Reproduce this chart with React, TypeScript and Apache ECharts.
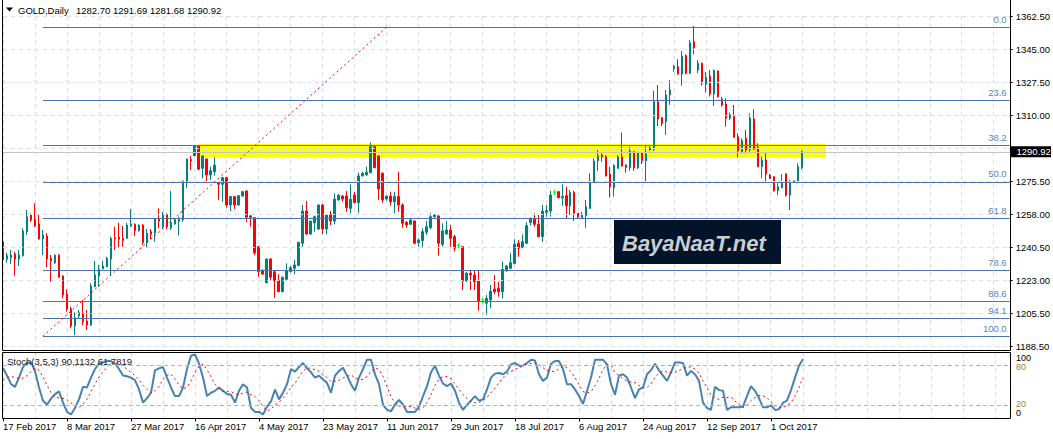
import React, { useEffect, useRef } from "react";
import * as echarts from "echarts";

const FONT = '"Liberation Sans", Arial, sans-serif';

// ---- x axis ----
const dateLabels = ["17 Feb 2017", "8 Mar 2017", "27 Mar 2017", "16 Apr 2017", "4 May 2017", "23 May 2017", "11 Jun 2017", "29 Jun 2017", "18 Jul 2017", "6 Aug 2017", "24 Aug 2017", "12 Sep 2017", "1 Oct 2017"];
const barsPerLabel = 16;
const gridEvery = 8;
const totalSlots = 253;

// ---- price axis ----
const priceTicks = [1188.5, 1205.9, 1223.3, 1240.7, 1258.1, 1275.5, 1292.9, 1310.3, 1327.7, 1345.1, 1362.5];
const priceTickLabels = ["1188.50", "1205.50", "1223.00", "1240.50", "1258.00", "1275.50", "", "1310.00", "1327.50", "1345.00", "1362.50"];

// ---- daily candles ----
const opens = [
  1243.4, 1234.3, 1235.1, 1237.1, 1234.4, 1236.2, 1248.8, 1257.6, 1255.3, 1252.9,
  1245.0, 1246.5, 1234.8, 1232.3, 1236.4, 1225.4, 1216.0, 1208.1, 1199.3, 1204.4,
  1205.8, 1201.7, 1199.6, 1219.8, 1225.4, 1229.3, 1230.4, 1234.4, 1245.6, 1245.9,
  1245.3, 1245.3, 1251.8, 1252.7, 1249.3, 1252.3, 1243.0, 1248.8, 1248.0, 1255.9,
  1251.4, 1257.9, 1250.9, 1252.9, 1254.4, 1255.0, 1275.5, 1286.9, 1288.9, 1294.0,
  1282.2, 1287.1, 1278.7, 1280.4, 1274.6, 1273.8, 1277.3, 1262.9, 1267.3, 1262.9,
  1267.6, 1270.3, 1257.1, 1256.2, 1240.9, 1228.2, 1221.9, 1234.4, 1227.7, 1223.3,
  1217.2, 1223.7, 1227.7, 1229.5, 1230.9, 1242.7, 1259.7, 1247.6, 1253.5, 1250.2,
  1262.9, 1250.2, 1257.6, 1254.4, 1265.5, 1267.6, 1267.6, 1261.1, 1268.1, 1264.1,
  1278.3, 1278.7, 1279.9, 1293.6, 1288.7, 1279.6, 1266.0, 1267.6, 1264.6, 1267.3,
  1262.9, 1253.8, 1252.7, 1254.4, 1243.0, 1244.1, 1248.5, 1250.9, 1256.7, 1257.1,
  1242.1, 1247.6, 1249.7, 1246.2, 1241.4, 1240.9, 1222.8, 1226.9, 1226.0, 1222.8,
  1212.8, 1211.1, 1212.8, 1218.6, 1219.0, 1217.2, 1228.1, 1229.5, 1232.1, 1242.7,
  1240.4, 1242.7, 1253.7, 1255.9, 1252.7, 1246.2, 1259.0, 1259.7, 1269.6, 1269.9,
  1266.7, 1267.8, 1262.5, 1269.6, 1258.5, 1256.2, 1257.2, 1261.1, 1275.2, 1286.1,
  1289.2, 1288.3, 1279.2, 1272.0, 1282.2, 1288.3, 1283.9, 1282.5, 1290.9, 1282.5,
  1290.4, 1286.2, 1291.9, 1292.2, 1317.3, 1308.9, 1306.8, 1320.9, 1334.7, 1335.8,
  1331.9, 1341.6, 1332.3, 1348.9, 1334.0, 1337.6, 1326.5, 1330.9, 1321.4, 1333.5,
  1318.7, 1316.1, 1308.6, 1310.3, 1298.9, 1291.0, 1298.0, 1291.9, 1308.2, 1293.3,
  1283.1, 1286.6, 1278.7, 1277.8, 1270.4, 1272.0, 1279.2, 1268.1, 1275.1, 1275.2,
  1282.70,
];
const highs = [
  1244.4, 1237.6, 1239.2, 1238.1, 1239.2, 1250.6, 1260.2, 1258.4, 1263.8, 1258.1,
  1249.7, 1248.0, 1236.5, 1236.9, 1236.9, 1225.9, 1218.4, 1209.3, 1206.3, 1207.5,
  1212.8, 1207.5, 1221.6, 1233.4, 1231.3, 1233.4, 1235.6, 1246.2, 1251.4, 1253.5,
  1251.8, 1253.5, 1260.8, 1253.2, 1252.7, 1252.8, 1250.2, 1250.2, 1255.9, 1261.1,
  1259.3, 1258.5, 1270.3, 1255.9, 1256.8, 1275.8, 1287.4, 1288.7, 1294.5, 1294.5,
  1289.2, 1287.5, 1283.1, 1288.0, 1275.0, 1277.8, 1277.7, 1267.5, 1267.6, 1268.1,
  1270.3, 1270.6, 1257.6, 1256.5, 1241.2, 1229.0, 1234.6, 1234.8, 1228.6, 1226.4,
  1225.1, 1232.1, 1230.7, 1233.9, 1243.5, 1262.9, 1265.0, 1254.6, 1257.2, 1263.1,
  1263.4, 1257.9, 1259.7, 1269.0, 1268.5, 1268.1, 1270.3, 1273.8, 1269.9, 1279.9,
  1280.4, 1283.1, 1295.9, 1294.0, 1289.2, 1280.0, 1267.8, 1269.9, 1269.9, 1280.4,
  1263.8, 1254.4, 1255.9, 1255.0, 1245.3, 1250.6, 1254.4, 1258.5, 1257.9, 1257.4,
  1253.2, 1254.4, 1252.3, 1247.1, 1242.7, 1241.2, 1227.7, 1228.6, 1228.1, 1228.6,
  1213.7, 1215.4, 1220.7, 1226.0, 1222.4, 1233.0, 1231.3, 1237.4, 1244.9, 1244.4,
  1247.4, 1253.8, 1256.2, 1258.5, 1257.6, 1262.9, 1262.9, 1270.3, 1270.8, 1270.3,
  1273.8, 1272.5, 1270.8, 1270.3, 1258.8, 1259.3, 1265.5, 1279.6, 1287.5, 1291.9,
  1290.1, 1289.2, 1283.1, 1284.2, 1289.2, 1301.0, 1284.2, 1293.6, 1291.2, 1290.9,
  1290.7, 1294.5, 1294.5, 1323.1, 1326.1, 1309.2, 1323.5, 1328.8, 1336.7, 1339.7,
  1344.0, 1342.3, 1349.9, 1357.2, 1339.3, 1338.0, 1333.1, 1334.0, 1334.4, 1333.8,
  1319.9, 1319.1, 1311.5, 1315.6, 1300.7, 1298.0, 1302.4, 1311.2, 1313.3, 1295.4,
  1288.3, 1290.1, 1279.2, 1278.1, 1274.3, 1279.2, 1279.6, 1276.1, 1275.7, 1284.8,
  1291.69,
];
const lows = [
  1232.8, 1232.5, 1231.8, 1225.6, 1230.7, 1235.6, 1247.1, 1253.9, 1251.3, 1244.6,
  1236.5, 1230.0, 1222.4, 1231.8, 1224.6, 1213.7, 1206.6, 1197.9, 1194.4, 1203.2,
  1199.6, 1197.0, 1199.2, 1219.5, 1219.8, 1229.0, 1230.0, 1226.0, 1239.2, 1240.6,
  1240.9, 1245.1, 1251.4, 1246.5, 1248.8, 1241.8, 1240.6, 1244.8, 1243.5, 1250.6,
  1250.2, 1250.2, 1249.7, 1252.5, 1246.8, 1254.1, 1271.7, 1281.3, 1288.5, 1281.3,
  1276.9, 1274.3, 1276.1, 1278.3, 1265.5, 1264.6, 1261.5, 1259.7, 1260.8, 1262.5,
  1267.4, 1253.8, 1251.4, 1236.5, 1225.1, 1226.0, 1221.6, 1223.3, 1214.0, 1217.0,
  1216.8, 1223.3, 1227.4, 1226.4, 1230.7, 1240.9, 1247.1, 1247.1, 1248.8, 1249.7,
  1247.6, 1247.4, 1252.3, 1252.7, 1265.3, 1264.6, 1259.3, 1258.5, 1263.8, 1258.8,
  1277.8, 1278.3, 1279.6, 1282.2, 1265.5, 1264.1, 1265.1, 1262.5, 1258.5, 1259.3,
  1250.9, 1250.9, 1252.3, 1242.2, 1240.9, 1240.4, 1247.1, 1250.1, 1256.2, 1236.2,
  1240.9, 1247.1, 1240.9, 1238.6, 1240.1, 1218.1, 1222.4, 1218.1, 1218.1, 1207.2,
  1211.1, 1204.9, 1208.4, 1215.8, 1214.5, 1213.7, 1227.7, 1229.0, 1231.6, 1235.6,
  1240.1, 1242.3, 1252.0, 1251.4, 1245.9, 1243.5, 1256.7, 1256.7, 1268.1, 1266.4,
  1262.5, 1255.9, 1257.6, 1254.4, 1255.9, 1255.9, 1250.9, 1260.8, 1274.8, 1280.8,
  1285.7, 1277.9, 1266.8, 1267.3, 1281.9, 1283.1, 1279.9, 1280.9, 1280.9, 1281.9,
  1284.5, 1274.6, 1291.5, 1291.3, 1304.5, 1304.5, 1299.8, 1315.6, 1333.1, 1331.6,
  1325.8, 1331.7, 1331.9, 1342.3, 1332.3, 1325.8, 1322.1, 1320.0, 1315.1, 1319.6,
  1314.7, 1304.1, 1307.7, 1298.4, 1288.0, 1290.1, 1290.1, 1291.0, 1291.9, 1282.8,
  1276.9, 1275.2, 1276.6, 1269.9, 1268.1, 1271.7, 1267.3, 1260.2, 1274.6, 1274.3,
  1281.68,
];
const closes = [
  1233.9, 1236.2, 1236.5, 1234.3, 1236.5, 1249.2, 1256.7, 1255.0, 1251.8, 1245.0,
  1247.1, 1234.4, 1233.4, 1236.4, 1224.8, 1215.4, 1207.9, 1199.1, 1203.5, 1206.1,
  1201.4, 1199.6, 1220.2, 1226.0, 1229.0, 1230.7, 1234.8, 1245.3, 1245.0, 1244.8,
  1244.1, 1252.3, 1252.9, 1249.3, 1252.3, 1243.0, 1248.0, 1247.4, 1255.5, 1254.4,
  1258.1, 1251.4, 1253.7, 1255.2, 1255.3, 1275.5, 1287.1, 1286.2, 1294.0, 1281.7,
  1288.7, 1278.7, 1281.0, 1283.9, 1273.8, 1277.3, 1262.9, 1267.3, 1262.9, 1267.8,
  1269.9, 1256.4, 1256.4, 1237.7, 1227.7, 1226.5, 1234.4, 1224.8, 1222.9, 1217.2,
  1224.8, 1228.1, 1229.8, 1231.3, 1243.2, 1259.7, 1247.6, 1254.4, 1256.7, 1262.9,
  1250.2, 1257.6, 1254.4, 1266.0, 1268.1, 1266.0, 1261.5, 1265.9, 1264.1, 1278.2,
  1279.6, 1280.1, 1293.6, 1282.6, 1271.3, 1265.5, 1267.6, 1264.6, 1267.3, 1262.9,
  1253.2, 1252.3, 1255.0, 1242.7, 1244.4, 1248.8, 1251.4, 1256.7, 1257.6, 1242.7,
  1249.2, 1249.7, 1245.3, 1240.1, 1241.4, 1222.8, 1226.9, 1226.0, 1222.4, 1211.9,
  1212.8, 1213.7, 1217.5, 1217.2, 1217.2, 1229.0, 1230.7, 1232.5, 1242.2, 1240.1,
  1243.5, 1252.0, 1255.9, 1252.7, 1246.2, 1259.7, 1259.9, 1268.1, 1269.6, 1266.7,
  1267.3, 1262.5, 1269.4, 1258.5, 1256.7, 1258.0, 1262.0, 1275.5, 1286.1, 1288.9,
  1288.2, 1278.2, 1272.5, 1283.9, 1288.3, 1283.4, 1282.7, 1291.3, 1282.5, 1290.4,
  1286.2, 1289.7, 1292.8, 1317.3, 1308.2, 1305.9, 1320.9, 1323.5, 1335.8, 1331.9,
  1341.4, 1332.3, 1348.4, 1345.8, 1337.6, 1327.0, 1330.2, 1321.4, 1333.7, 1319.9,
  1315.6, 1308.6, 1310.3, 1298.6, 1291.5, 1296.8, 1291.9, 1308.6, 1292.8, 1283.1,
  1286.6, 1279.2, 1276.9, 1270.4, 1272.5, 1274.3, 1268.1, 1275.5, 1275.5, 1283.1,
  1290.92,
];

// ---- stochastic (3,5,3) ----
const stochK = [
  77, 65, 52, 48, 62, 78, 84, 85, 72, 47,
  27, 21, 30, 37, 41, 24, 10, 6, 16, 29,
  48, 47, 62, 75, 83, 85, 87, 87, 83, 75,
  65, 64, 62, 58, 44, 24, 31, 39, 73, 76,
  78, 62, 47, 34, 34, 47, 75, 95, 97, 83,
  62, 34, 39, 42, 47, 42, 37, 36, 24, 42,
  52, 47, 16, 10, 10, 6, 18, 26, 44, 29,
  39, 52, 75, 71, 78, 84, 76, 70, 62, 65,
  59, 54, 39, 65, 72, 77, 65, 52, 42, 62,
  75, 89, 89, 67, 52, 21, 13, 11, 21, 28,
  21, 10, 10, 10, 18, 34, 49, 70, 80, 65,
  53, 49, 53, 42, 24, 13, 21, 27, 34, 27,
  29, 44, 62, 68, 69, 67, 71, 82, 84, 80,
  80, 84, 89, 88, 67, 57, 62, 83, 87, 87,
  75, 52, 52, 44, 34, 22, 42, 62, 89, 89,
  89, 82, 52, 36, 65, 67, 62, 47, 31, 44,
  47, 67, 73, 83, 73, 65, 57, 70, 85, 85,
  84, 65, 72, 67, 57, 24, 16, 13, 48, 43,
  42, 13, 17, 17, 17, 18, 34, 49, 42, 31,
  17, 17, 20, 13, 14, 24, 27, 43, 62, 80,
  90.11,
];
const stochD = [
  58, 62, 64, 62, 60.8, 61, 64.8, 71.4, 76.2, 73.2,
  63, 50.4, 39.4, 32.4, 31.2, 30.6, 28.4, 23.6, 19.4, 17,
  21.8, 29.2, 40.4, 52.2, 63, 70.4, 78.4, 83.4, 85, 83.4,
  79.4, 74.8, 69.8, 64.8, 58.6, 50.4, 43.8, 39.2, 42.2, 48.6,
  59.4, 65.6, 67.2, 59.4, 51, 44.8, 47.4, 57, 69.6, 79.4,
  82.4, 74.2, 63, 52, 44.8, 40.8, 41.4, 40.8, 37.2, 36.2,
  38.2, 40.2, 36.2, 33.4, 27, 17.8, 12, 14, 20.8, 24.6,
  31.2, 38, 47.8, 53.2, 63, 72, 76.8, 75.8, 74, 71.4,
  66.4, 62, 55.8, 56.4, 57.8, 61.4, 63.6, 66.2, 61.6, 59.6,
  59.2, 64, 71.4, 76.4, 74.4, 63.6, 48.4, 32.8, 23.6, 18.8,
  18.8, 18.2, 18, 15.8, 13.8, 16.4, 24.2, 36.2, 50.2, 59.6,
  63.4, 63.4, 60, 52.4, 44.2, 36.2, 30.6, 25.4, 23.8, 24.4,
  27.6, 32.2, 39.2, 46, 54.4, 62, 67.4, 71.4, 74.6, 76.8,
  79.4, 82, 83.4, 84.2, 81.6, 77, 72.6, 71.4, 71.2, 75.2,
  78.8, 76.8, 70.6, 62, 51.4, 40.8, 38.8, 40.8, 49.8, 60.8,
  74.2, 82.2, 80.2, 69.6, 64.8, 60.4, 56.4, 55.4, 54.4, 50.2,
  46.2, 47.2, 52.4, 62.8, 68.6, 72.2, 70.2, 69.6, 70, 72.4,
  76.2, 77.8, 78.2, 74.6, 69, 57, 47.2, 35.4, 31.6, 28.8,
  32.4, 31.8, 32.6, 26.4, 21.2, 16.4, 20.6, 27, 32, 34.8,
  34.6, 31.2, 25.4, 19.6, 16.2, 17.6, 19.6, 24.2, 34, 47.2,
  61.78,
];
const stochLevels = [80, 20];

// ---- drawn objects ----
const fibLevels = [0, 23.6, 38.2, 50, 61.8, 78.6, 88.6, 94.1, 100];
const fibHigh = 1356.5;
const fibLow = 1193.7;
const fibStartBar = 10;
const fibEndBar = 96;
const zoneTop = 1295.0;
const zoneBottom = 1288.0;
const zoneStartBar = 49;
const zoneEndBar = 206;
const bidPrice = 1290.92;
const headerSymbol = "GOLD,Daily";
const headerOHLC = "1282.70 1291.69 1281.68 1290.92";
const stochTitle = "Stoch(3,5,3) 90.1132 61.7819";

export default function App() {
  const ref = useRef<HTMLDivElement>(null);

  useEffect(() => {
    const el = ref.current;
    if (!el) return;
    const chart = echarts.init(el, null, { renderer: "svg" });
    const lastIdx = totalSlots - 1;
    const cats = Array.from({ length: totalSlots }, (_, i) => "b" + i);
    const labelAt = (i: number) =>
      i % barsPerLabel === 0 && i / barsPerLabel < dateLabels.length ? dateLabels[i / barsPerLabel] : "";
    const candleData = opens.map((o, i) => [o, closes[i], lows[i], highs[i]]);
    const fibPrice = (lv: number) => fibHigh - ((fibHigh - fibLow) * lv) / 100;
    const splitLine = {
      show: true,
      interval: (i: number) => i % gridEvery === 0,
      lineStyle: { color: "#d9d9ef", type: [4, 4], width: 1 },
    };
    const txt = (text: string, x: number, y: number, fill: string, size = 9.5) => ({
      type: "text", z: 20, x, y, silent: true,
      style: { text, fill, fontSize: size, fontFamily: FONT, textVerticalAlign: "middle", verticalAlign: "middle" },
    });

    const staticGraphic: any[] = [
      {
        type: "polyline", z: 20, silent: true,
        shape: { points: [[2.5, 0], [2.5, 350.5], [1010.5, 350.5], [1010.5, 0]] },
        style: { stroke: "#000", fill: null, lineWidth: 1 },
      },
      {
        type: "rect", z: 20, silent: true,
        shape: { x: 2.5, y: 352.5, width: 1008, height: 66 },
        style: { stroke: "#000", fill: null, lineWidth: 1 },
      },
      {
        type: "polygon", z: 20, silent: true,
        shape: { points: [[6, 7.5], [13, 7.5], [9.5, 11.5]] },
        style: { fill: "#000" },
      },
      txt(headerSymbol, 18, 10.5, "#000"),
      txt(headerOHLC, 76, 10.5, "#000"),
      txt(stochTitle, 7, 361, "#222"),
      txt("100", 1016, 357.5, "#000", 9),
      txt("80", 1016, 366.5, "#b07a1e", 9),
      txt("20", 1016, 403.5, "#b07a1e", 9),
      txt("0", 1016, 412.5, "#000", 9),
      {
        type: "rect", z: 20, silent: true,
        shape: { x: 614, y: 220, width: 167, height: 44 },
        style: { fill: "#03142a" },
      },
      {
        type: "text", z: 21, x: 622, y: 243, silent: true,
        style: { text: "BayaNaaT.net", fill: "#c9ced4", fontSize: 22, fontWeight: "bold", fontStyle: "italic", fontFamily: FONT, textVerticalAlign: "middle", verticalAlign: "middle" },
      },
    ];

    const option: any = {
      animation: false,
      backgroundColor: "#ffffff",
      grid: [
        { left: 3, top: 16, width: 1008, height: 330.1 },
        { left: 3, top: 352.5, width: 1008, height: 66 },
      ],
      xAxis: [
        {
          type: "category", gridIndex: 0, data: cats, boundaryGap: false,
          axisLine: { show: false }, axisTick: { show: false }, axisLabel: { show: false }, splitLine,
        },
        {
          type: "category", gridIndex: 1, data: cats, boundaryGap: false,
          axisLine: { show: false },
          axisTick: { show: true, interval: (i: number) => labelAt(i) !== "", length: 3, lineStyle: { color: "#000" } },
          axisLabel: {
            show: true, interval: (i: number) => labelAt(i) !== "",
            formatter: (_v: string, i: number) => labelAt(i),
            align: "left", margin: 3, fontSize: 9.5, color: "#000", fontFamily: FONT,
          },
          splitLine,
        },
      ],
      yAxis: [
        {
          type: "value", gridIndex: 0, position: "right",
          min: priceTicks[0], max: priceTicks[priceTicks.length - 1],
          axisLine: { show: false },
          axisTick: { show: true, customValues: priceTicks, length: 3, lineStyle: { color: "#000" } },
          axisLabel: {
            show: true, customValues: priceTicks, margin: 6, fontSize: 9.5, color: "#000", fontFamily: FONT,
            formatter: (v: number) => {
              const k = priceTicks.findIndex((t) => Math.abs(t - v) < 0.01);
              return k >= 0 ? priceTickLabels[k] : "";
            },
          },
          splitLine: { show: false },
        },
        {
          type: "value", gridIndex: 1, position: "right", min: 0, max: 100,
          axisLine: { show: false }, axisTick: { show: false }, axisLabel: { show: false }, splitLine: { show: false },
        },
      ],
      series: [
        {
          type: "line", name: "zone", xAxisIndex: 0, yAxisIndex: 0, data: [], z: 0, silent: true,
          markArea: {
            silent: true,
            itemStyle: { color: "#ffff00" },
            data: [[{ coord: [zoneStartBar, zoneTop] }, { coord: [zoneEndBar, zoneBottom] }]],
          },
        },
        {
          type: "line", name: "grid", xAxisIndex: 0, yAxisIndex: 0, data: [], z: 1, silent: true,
          markLine: {
            silent: true, symbol: ["none", "none"], label: { show: false },
            lineStyle: { color: "#d9d9ef", type: [4, 4], width: 1 },
            data: [
              ...priceTicks.map((v) => ({ yAxis: v })),
              { yAxis: bidPrice, lineStyle: { color: "#c4c4c4", type: "solid", width: 1 } },
            ],
          },
        },
        {
          type: "candlestick", name: "GOLD", xAxisIndex: 0, yAxisIndex: 0, z: 2,
          data: candleData, barWidth: 2, silent: true,
          itemStyle: {
            color: "#008080", color0: "#ff0000",
            borderColor: "#008080", borderColor0: "#ff0000",
            borderColorDoji: "#00ff00", borderWidth: 1,
          },
        },
        {
          type: "line", name: "objects", xAxisIndex: 0, yAxisIndex: 0, data: [], z: 3, silent: true,
          markLine: {
            silent: true, symbol: ["none", "none"],
            data: [
              ...fibLevels.map((lv) => [
                {
                  coord: [fibStartBar, fibPrice(lv)],
                  lineStyle: { color: "#4a78a8", type: "solid", width: 1 },
                  label: {
                    show: true, position: "insideEndTop", formatter: lv.toFixed(1),
                    color: "#5b84bd", fontSize: 9.5, fontFamily: FONT, distance: 3,
                  },
                },
                { coord: [lastIdx, fibPrice(lv)] },
              ]),
              [
                {
                  coord: [fibStartBar, fibLow],
                  lineStyle: { color: "#ff0000", type: [2, 3], width: 1 },
                  label: { show: false },
                },
                { coord: [fibEndBar, fibHigh] },
              ],
            ],
          },
        },
        {
          type: "line", name: "%K", xAxisIndex: 1, yAxisIndex: 1, data: stochK, z: 3,
          symbol: "none", silent: true, lineStyle: { color: "#4682b4", width: 2 },
          markLine: {
            silent: true, symbol: ["none", "none"], label: { show: false },
            lineStyle: { color: "#b4b4b4", type: [4, 3], width: 1 },
            data: stochLevels.map((v) => ({ yAxis: v })),
          },
        },
        {
          type: "line", name: "%D", xAxisIndex: 1, yAxisIndex: 1, data: stochD, z: 4,
          symbol: "none", silent: true, lineStyle: { color: "#ff0000", width: 1, type: [2, 3] },
        },
      ],
      graphic: staticGraphic,
    };

    chart.setOption(option);

    const yBid = chart.convertToPixel({ yAxisIndex: 0 }, bidPrice) as number;
    chart.setOption({
      graphic: [
        ...staticGraphic,
        {
          type: "rect", z: 22, silent: true,
          shape: { x: 1011, y: yBid - 5.5, width: 40, height: 11 },
          style: { fill: "#000" },
        },
        {
          type: "text", z: 23, x: 1016.5, y: yBid, silent: true,
          style: { text: bidPrice.toFixed(2), fill: "#fff", fontSize: 9.5, fontFamily: FONT, textVerticalAlign: "middle", verticalAlign: "middle" },
        },
      ],
    });

    return () => chart.dispose();
  }, []);

  return (
    <div
      ref={ref}
      style={{ position: "fixed", left: 0, top: 0, width: 1053, height: 439, background: "#fff" }}
    />
  );
}
